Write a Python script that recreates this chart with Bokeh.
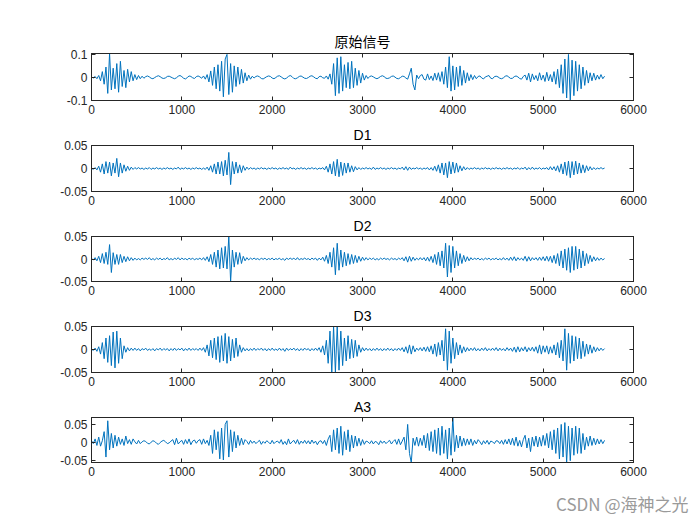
from bokeh.plotting import figure
from bokeh.layouts import column
from bokeh.models import FixedTicker, Range1d, Title, LinearAxis
from bokeh.embed import file_html
from bokeh.resources import INLINE

# sample step between listed values (samples)
step = 20

# values, in thousandths (1e-3), one value every 20 samples
orig_milli = [
    2, -3, 4, -6, 8, -15, 25, -30, 45, -70, 104, -55, 40, -50, 60,
    -65, 70, -40, 30, -45, 35, -20, 25, -15, 12, -10, 8, -6, 5, -4,
    3, 6, 2, -4, -6, -1, 4, 7, 3, -3, -5, -2, 4, 5, 1,
    -3, -6, -2, 5, 8, 3, -4, -7, -1, 6, 4, -2, -5, 3, 6,
    2, -4, 6, -8, 12, -20, 28, -35, 45, -50, 55, -60, 70, -85, 80,
    100, -75, 60, -65, 50, -40, 45, -30, 35, -25, 20, -15, 10, -8, 5,
    -3, 4, 6, 2, -5, -7, -2, 3, 6, 4, -3, -6, -1, 5, 7,
    2, -4, -7, -3, 4, 8, 3, -5, -6, -2, 4, 6, 1, -4, -5,
    -1, 5, 7, 2, -4, -6, 3, 5, -2, -4, 6, -8, 15, -30, 60,
    -80, 85, -70, 90, -60, 55, -45, 65, -50, 70, -45, 40, -35, 30, -25,
    18, -12, 8, -5, 4, 6, 2, -3, -6, -2, 4, 7, 3, -4, -5,
    -2, 4, 6, 1, -5, -6, -1, 5, 4, -3, -8, 15, 40, -30, -55,
    10, -6, 8, 12, -8, -12, 15, -10, 6, -14, 18, -12, 20, -18, 25,
    -30, 45, -45, 90, -60, 50, -55, 45, -40, 50, -35, 30, -25, 20, -15,
    12, -10, 8, -6, 4, 6, -3, -7, 2, 5, 8, -4, -6, 3, 5,
    2, -4, -6, -2, 5, 7, 1, -5, -4, 3, 6, 2, -5, -8, 4,
    10, -12, 18, -20, 15, -10, 8, -15, 20, -12, 10, -18, 22, -15, 12,
    -20, 25, -30, 35, -45, 55, -70, 80, -90, 100, -100, 75, -80, 70, -60,
    55, -50, 45, -35, 30, -25, 20, -15, 18, -12, 10, -8, 12, -6, 5,
]
d1_milli = [
    1, -2, 2, -3, 5, -8, 10, -12, 15, -10, 14, -16, 12, -10, 22,
    -18, 12, -10, 8, -6, 5, -4, 3, -2, 2, -1, 2, -1, 1, -2,
    1, -1, 2, -2, 1, -1, 2, -1, 1, -2, 1, -1, 2, -1, 1,
    -2, 1, -1, 3, -2, 1, -1, 2, -1, 1, -2, 1, -1, 2, -1,
    1, -2, 1, -2, 3, -4, 6, -8, 10, -12, 14, -12, 15, -16, 18,
    -14, 35, -35, 15, -12, 14, -10, 8, -9, 6, -4, 3, -2, 2, -1,
    1, -2, 1, -1, 2, -1, 1, -2, 1, -1, 2, -1, 1, -2, 1,
    -1, 2, -1, 1, -2, 3, -1, 1, -2, 1, -1, 2, -1, 1, -2,
    1, -1, 2, -1, 1, -2, 1, -1, 2, -3, 5, -8, 10, -12, 15,
    -16, 20, -18, 14, -15, 12, -10, 12, -8, 6, -7, 4, -3, 2, -2,
    1, -1, 2, -1, 1, -2, 3, -2, 1, -1, 2, -1, 1, -2, 1,
    -1, 2, -1, 1, -2, 1, -1, 3, -3, 4, -4, 3, -2, 1, -1,
    2, -1, 1, -2, 1, -1, 2, -3, 2, -4, 5, -6, 8, -10, 12,
    -14, 12, -20, 15, -12, 14, -10, 12, -8, 6, -5, 4, -3, 2, -2,
    1, -1, 2, -1, 1, -2, 1, -1, 2, -1, 1, -2, 1, -1, 2,
    -1, 1, -2, 1, -1, 2, -1, 1, -2, 1, -1, 2, -2, 1, -1,
    3, -3, 2, -2, 3, -2, 1, -1, 2, -2, 1, -1, 2, -3, 4,
    -3, 4, -5, 6, -8, 10, -12, 14, -15, 16, -20, 15, -14, 16, -12,
    12, -10, 8, -9, 6, -5, 4, -3, 2, -2, 1, -1, 2, -1, 1,
]
d2_milli = [
    1, -2, 3, -4, 6, -8, 12, -10, 15, -12, 32, -30, 14, -12, 10,
    -12, 10, -8, 6, -6, 5, -4, 3, -3, 2, -2, 1, -2, 2, -1,
    2, -1, 3, -2, 1, -2, 2, -1, 2, -2, 1, -1, 3, -2, 1,
    -2, 2, -1, 3, -2, 2, -1, 1, -2, 2, -1, 2, -2, 1, -1,
    2, -2, 3, -3, 5, -6, 10, -12, 15, -18, 20, -22, 25, -20, 28,
    -22, 50, -50, 20, -18, 15, -12, 14, -10, 6, -4, 3, -2, 2, -1,
    2, -1, 1, -2, 2, -1, 2, -2, 1, -1, 2, -2, 1, -1, 2,
    -2, 1, -3, 2, -1, 2, -1, 2, -2, 3, -2, 1, -1, 2, -1,
    1, -2, 2, -1, 2, -3, 2, -2, 4, -5, 8, -10, 15, -18, 25,
    -35, 35, -25, 20, -18, 15, -15, 12, -12, 10, -10, 8, -8, 6, -5,
    4, -3, 3, -2, 2, -1, 2, -2, 1, -2, 2, -1, 2, -1, 1,
    -2, 2, -1, 1, -2, 2, -1, 3, -4, 5, -7, 6, -5, 4, -3,
    2, -2, 3, -2, 3, -4, 4, -5, 6, -8, 10, -12, 15, -15, 18,
    -20, 35, -40, 30, -30, 28, -20, 18, -15, 12, -10, 8, -6, 5, -4,
    3, -2, 2, -1, 2, -2, 1, -2, 2, -1, 2, -2, 1, -1, 2,
    -2, 1, -2, 3, -2, 2, -3, 4, -3, 5, -4, 3, -2, 2, -3,
    6, -5, 5, -4, 3, -2, 3, -3, 4, -3, 5, -4, 6, -5, 6,
    -8, 8, -10, 12, -15, 18, -20, 22, -25, 25, -30, 28, -25, 28, -22,
    22, -20, 18, -15, 12, -10, 8, -6, 5, -4, 3, -3, 2, -2, 1,
]
d3_milli = [
    1, -2, 3, -4, 6, -10, 15, -20, 25, -28, 30, -35, 38, -40, 40,
    -30, 25, -20, 8, -6, 4, -3, 3, -2, 3, -2, 2, -3, 2, -1,
    3, -2, 1, -2, 2, -3, 2, -1, 3, -2, 2, -1, 2, -3, 2,
    -2, 3, -2, 2, -1, 3, -3, 2, -2, 3, -2, 2, -1, 2, -2,
    3, -2, 4, -6, 10, -14, 20, -18, 25, -22, 28, -28, 30, -25, 35,
    -30, 28, -25, 22, -18, 25, -15, 10, -6, 4, -3, 2, -3, 2, -2,
    3, -2, 2, -1, 3, -2, 2, -3, 2, -2, 3, -2, 1, -2, 3,
    -2, 2, -4, 3, -2, 2, -1, 3, -2, 2, -3, 2, -2, 3, -1,
    2, -3, 2, -2, 3, -2, 4, -6, 8, -12, 20, -30, 40, -50, 50,
    -50, 50, -45, 40, -35, 25, -25, 30, -20, 22, -18, 20, -15, 10, -6,
    4, -3, 3, -2, 2, -3, 2, -2, 3, -2, 2, -3, 2, -2, 3,
    -2, 2, -3, 2, -2, 3, -2, 4, -5, 6, -8, 10, -10, 8, -5,
    3, -2, 4, -3, 5, -4, 6, -5, 8, -10, 12, -15, 15, -12, 20,
    -25, 45, -45, 40, -30, 25, -20, 15, -12, 10, -8, 6, -5, 4, -3,
    3, -2, 4, -3, 2, -3, 3, -2, 4, -3, 2, -2, 3, -2, 4,
    -3, 3, -2, 2, -3, 4, -2, 3, -4, 5, -6, 6, -5, 4, -3,
    6, -5, 4, -3, 5, -4, 6, -8, 10, -10, 8, -6, 8, -10, 6,
    -8, 10, -12, 15, -18, 20, -25, 45, -45, 35, -30, 30, -25, 28, -20,
    25, -20, 18, -15, 12, -10, 10, -8, 6, -5, 4, -3, 3, -2, 2,
]
a3_milli = [
    5, -3, 10, -8, 15, -10, 5, 30, -40, 60, -20, 25, -15, 20, -10,
    15, -5, 10, -8, 18, -3, 8, -5, 10, 2, -4, 6, -3, 2, 5,
    3, -2, -4, 1, 5, 3, -2, -5, 0, 4, 6, 2, -3, -1, 4,
    8, -6, 12, -4, 2, 6, -5, 8, -3, 10, -6, 4, 7, -2, 5,
    8, -5, 10, -3, 6, -8, 20, -30, 35, -20, 30, -45, 40, -48, 50,
    60, -40, 35, -25, 30, -15, 20, -8, 12, -6, 8, 3, -5, 6, -2,
    4, -3, 2, 6, -5, 3, -2, 5, 1, -4, 6, -3, 2, 4, -2,
    8, -5, 3, -6, 10, -4, 2, 6, -3, 8, -5, 4, -2, 6, -3,
    5, -4, 7, -2, 4, -6, 3, 5, -3, 6, -8, 10, 20, -25, 35,
    -20, 40, -30, 45, -35, 30, -20, 35, -25, 20, -15, 18, -10, 12, -8,
    8, -5, 4, 2, -3, 5, -4, 3, 1, -6, 5, -2, 4, -3, 2,
    6, -4, 3, 8, -5, 10, -6, 4, 15, -20, 50, -30, -55, 12, -8,
    15, -10, 12, -8, 20, -15, 25, -22, 30, -25, 35, -30, 40, -35, 45,
    -30, 35, -45, 40, -35, 69, -25, 20, -15, 18, -10, 12, -8, 10, -6,
    10, -8, 6, -4, 8, 2, -6, 5, -3, 6, -5, 4, 2, -3, 5,
    4, -3, 6, -5, 8, -4, 10, -6, 12, -8, 15, -10, 6, -12, 8,
    20, -15, 12, -25, 15, -10, 18, -12, 15, -10, 20, -8, 25, -15, 30,
    -20, 35, -30, 40, -45, 50, -40, 55, -55, 45, -50, 40, -35, 45, -30,
    40, -30, 25, -20, 15, -10, 18, -8, 12, -6, 10, -4, 8, -3, 6,
]

titles = ["原始信号", "D1", "D2", "D3", "A3"]
series = [orig_milli, d1_milli, d2_milli, d3_milli, a3_milli]
y_limits = [(-0.101, 0.104), (-0.05, 0.05), (-0.05, 0.05), (-0.05, 0.05), (-0.055, 0.069)]
y_ticks = [[-0.1, 0, 0.1], [-0.05, 0, 0.05], [-0.05, 0, 0.05], [-0.05, 0, 0.05], [-0.05, 0, 0.05]]
y_tick_labels = [["-0.1", "0", "0.1"], ["-0.05", "0", "0.05"], ["-0.05", "0", "0.05"],
                 ["-0.05", "0", "0.05"], ["-0.05", "0", "0.05"]]
x_ticks = [0, 1000, 2000, 3000, 4000, 5000, 6000]
watermark = "CSDN @海神之光"

# layout: (figure height, top border, bottom border)
layout_spec = [(122, 53, 22), (91, 22, 22), (90, 21, 22), (91, 22, 22), (131, 23, 62)]

LINE = "#0072BD"
AX = "#262626"
FONT = "Liberation Sans"


def style_axis(ax, show_labels=True):
    ax.major_tick_in = 4
    ax.major_tick_out = 0
    ax.minor_tick_line_color = None
    ax.axis_line_color = AX
    ax.major_tick_line_color = AX
    ax.major_label_text_font = FONT
    if show_labels:
        ax.major_label_text_color = AX
        ax.major_label_text_font_size = "12px"
        ax.major_label_standoff = 4
    else:
        # tick marks only (MATLAB box ticks), no labels drawn
        ax.major_label_text_color = None
        ax.major_label_text_font_size = "1px"
        ax.major_label_standoff = 0


figs = []
for k in range(5):
    h, bt, bb = layout_spec[k]
    vals = [v / 1000.0 for v in series[k]]
    xs = [i * step for i in range(len(vals))]
    p = figure(width=700, height=h, output_backend="svg", toolbar_location=None,
               x_range=Range1d(0, 6000), y_range=Range1d(*y_limits[k]),
               min_border_left=91, min_border_right=67,
               min_border_top=bt, min_border_bottom=bb,
               title=titles[k])
    p.line(xs, vals, line_color=LINE, line_width=1)
    p.grid.visible = False
    p.outline_line_color = AX
    p.outline_line_width = 1
    p.background_fill_color = "white"
    p.border_fill_color = "white"
    p.title.align = "center"
    p.title.text_font = "Noto Sans CJK SC" if k == 0 else FONT
    p.title.text_font_style = "normal"
    p.title.text_font_size = "14px"
    p.title.text_color = "#000000"
    p.title.standoff = 5
    p.title.offset = 0

    xa = p.xaxis[0]
    xa.ticker = FixedTicker(ticks=x_ticks)
    xa.major_label_overrides = {t: str(t) for t in x_ticks}
    ya = p.yaxis[0]
    ya.ticker = FixedTicker(ticks=y_ticks[k])
    ya.major_label_overrides = {t: s for t, s in zip(y_ticks[k], y_tick_labels[k])}
    style_axis(xa)
    style_axis(ya)

    # box ticks on top and right, as in the MATLAB axes box
    top = LinearAxis(ticker=FixedTicker(ticks=x_ticks))
    right = LinearAxis(ticker=FixedTicker(ticks=y_ticks[k]))
    style_axis(top, show_labels=False)
    style_axis(right, show_labels=False)
    p.add_layout(top, "above")
    p.add_layout(right, "right")
    figs.append(p)

# watermark as a right-aligned title under the last plot
wm = Title(text=watermark, align="right", offset=-55, standoff=20,
           text_font="Noto Sans CJK SC", text_font_size="17px",
           text_font_style="normal", text_color="#9a9a9a")
figs[-1].add_layout(wm, "below")

layout = column(*figs, spacing=0)
open("out.html", "w").write(file_html(layout, INLINE))
